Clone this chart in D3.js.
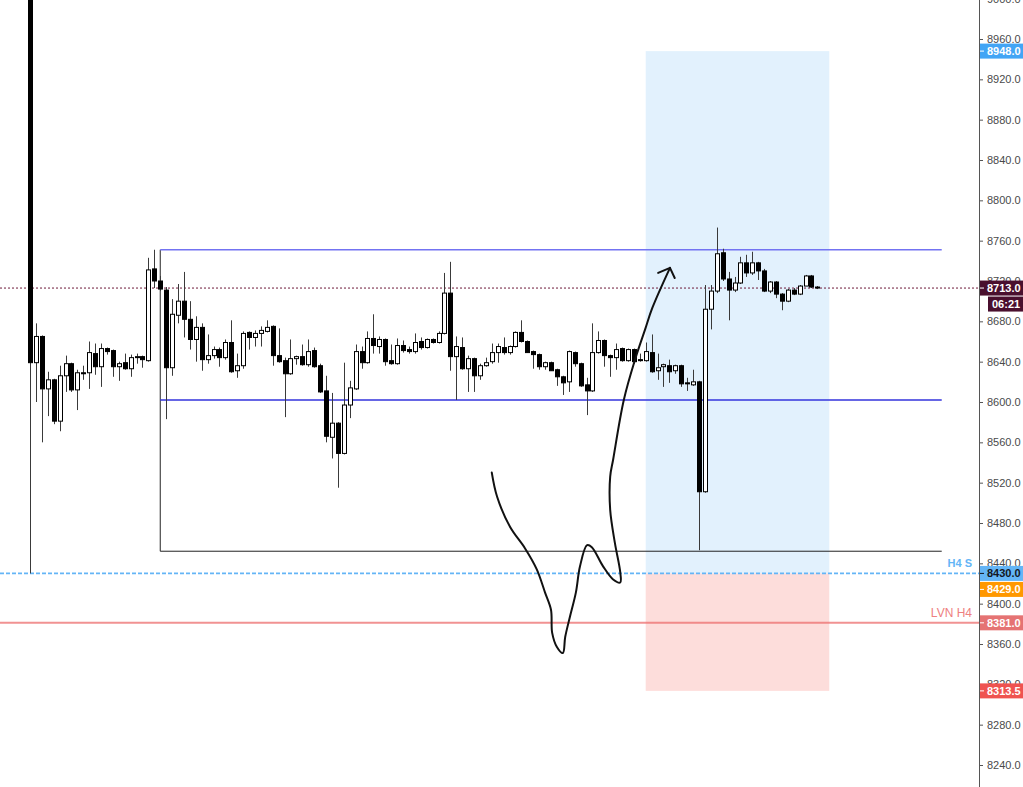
<!DOCTYPE html>
<html>
<head>
<meta charset="utf-8">
<script src="https://cdn.jsdelivr.net/npm/d3@7"></script>
<style>
  html, body { margin: 0; padding: 0; background: #fff; overflow: hidden; }
  svg { display: block; font-family: "Liberation Sans", Arial, sans-serif; }
</style>
</head>
<body>
<svg id="chart"></svg>
<script>
// OHLC, one entry per bar (oldest first)
const opens = [9060, 8639, 8665, 8613, 8622, 8581, 8626, 8638, 8612, 8629,
  8629, 8648, 8635, 8653, 8651, 8635, 8639, 8633, 8644, 8645,
  8641, 8732, 8720, 8711, 8634, 8686, 8700, 8682, 8662, 8674,
  8642, 8646, 8652, 8644, 8659, 8631, 8636, 8669, 8664, 8668,
  8670, 8675, 8646, 8641, 8628, 8643, 8645, 8637, 8651, 8636,
  8611, 8565, 8579, 8549, 8597, 8613, 8650, 8639, 8663, 8655,
  8662, 8641, 8638, 8656, 8652, 8650, 8660, 8654, 8662, 8659,
  8668, 8708, 8645, 8654, 8633, 8643, 8626, 8636, 8640, 8649,
  8654, 8649, 8655, 8669, 8660, 8650, 8647, 8635, 8639, 8632,
  8625, 8620, 8649, 8638, 8617, 8611, 8649, 8661, 8646, 8644,
  8653, 8641, 8652, 8642, 8641, 8649, 8631, 8635, 8636, 8631,
  8636, 8619, 8617, 8620, 8511, 8692, 8710, 8748, 8722, 8711,
  8718, 8738, 8728, 8738, 8730, 8710, 8719, 8707, 8700, 8711,
  8707, 8715, 8725, 8714];
const highs = [9080, 8678, 8666, 8630, 8623, 8636, 8646, 8639, 8632, 8636,
  8660, 8658, 8658, 8654, 8652, 8640, 8648, 8647, 8648, 8646,
  8743, 8751, 8725, 8714, 8702, 8717, 8729, 8700, 8685, 8678,
  8667, 8655, 8654, 8662, 8681, 8648, 8670, 8670, 8671, 8675,
  8681, 8676, 8673, 8644, 8662, 8646, 8657, 8662, 8654, 8638,
  8626, 8609, 8580, 8639, 8621, 8657, 8655, 8670, 8687, 8665,
  8663, 8657, 8663, 8661, 8655, 8668, 8664, 8663, 8663, 8670,
  8728, 8739, 8665, 8664, 8646, 8644, 8638, 8644, 8658, 8658,
  8664, 8656, 8670, 8681, 8661, 8651, 8648, 8640, 8640, 8633,
  8626, 8651, 8650, 8639, 8624, 8678, 8670, 8662, 8647, 8658,
  8654, 8653, 8653, 8648, 8659, 8667, 8648, 8638, 8642, 8637,
  8637, 8624, 8632, 8621, 8716, 8716, 8773, 8752, 8729, 8724,
  8744, 8746, 8749, 8739, 8732, 8720, 8720, 8708, 8712, 8713,
  8716, 8726, 8726, 8715];
const lows = [8430, 8600, 8560, 8586, 8578, 8571, 8610, 8610, 8592, 8622,
  8613, 8627, 8615, 8647, 8625, 8621, 8632, 8625, 8638, 8634,
  8640, 8713, 8710, 8583, 8626, 8678, 8664, 8652, 8640, 8631,
  8638, 8643, 8635, 8642, 8629, 8624, 8633, 8652, 8655, 8655,
  8669, 8636, 8639, 8585, 8627, 8637, 8636, 8635, 8634, 8609,
  8560, 8544, 8515, 8548, 8584, 8612, 8633, 8638, 8648, 8648,
  8636, 8637, 8637, 8649, 8648, 8648, 8652, 8653, 8658, 8658,
  8667, 8631, 8602, 8632, 8610, 8610, 8622, 8635, 8638, 8639,
  8647, 8647, 8654, 8659, 8649, 8633, 8632, 8632, 8631, 8616,
  8607, 8610, 8635, 8615, 8587, 8610, 8648, 8635, 8625, 8632,
  8640, 8640, 8638, 8640, 8640, 8629, 8622, 8615, 8619, 8628,
  8615, 8611, 8616, 8453, 8510, 8672, 8708, 8720, 8681, 8709,
  8717, 8724, 8726, 8721, 8709, 8708, 8703, 8691, 8699, 8706,
  8706, 8715, 8713, 8712];
const closes = [8639, 8665, 8613, 8622, 8581, 8626, 8638, 8612, 8629, 8628,
  8649, 8635, 8653, 8650, 8635, 8638, 8633, 8644, 8645, 8642,
  8731, 8720, 8712, 8634, 8687, 8700, 8682, 8662, 8674, 8642,
  8646, 8652, 8644, 8659, 8630, 8636, 8668, 8664, 8668, 8671,
  8674, 8646, 8640, 8628, 8643, 8645, 8637, 8650, 8635, 8610,
  8566, 8579, 8549, 8597, 8614, 8650, 8639, 8663, 8656, 8662,
  8640, 8638, 8656, 8651, 8650, 8659, 8654, 8662, 8659, 8668,
  8708, 8645, 8655, 8633, 8643, 8626, 8636, 8639, 8649, 8655,
  8649, 8655, 8669, 8660, 8649, 8647, 8635, 8639, 8631, 8625,
  8619, 8650, 8638, 8616, 8611, 8649, 8661, 8646, 8644, 8652,
  8641, 8652, 8640, 8641, 8650, 8630, 8634, 8637, 8630, 8636,
  8618, 8618, 8620, 8511, 8692, 8710, 8747, 8722, 8711, 8718,
  8738, 8728, 8738, 8730, 8710, 8719, 8707, 8700, 8711, 8707,
  8715, 8725, 8714, 8713];

// price axis ticks
const tickPrices = d3.range(8240, 9001, 40);

// drawn levels
const rangeTop = 8751, rangeMid = 8602, rangeBottom = 8452;
const rangeStartBar = 22, rangeEndBar = 154;
const levelH4S = 8430, levelLVN = 8381;
const lastPrice = 8713, countdown = "06:21";

// long position tool
const posStartBar = 104, posEndBar = 135;
const posEntry = 8430, posTarget = 8948, posStop = 8313.5;
const alertPrice = 8429;

// freehand arrow, in (bar index, price)
const scribbleBars = [78.0, 78.9, 81.1, 83.6, 85.6, 87.0, 88.0, 88.2, 89.0, 90.0,
  90.4, 91.2, 92.2, 92.9, 94.1, 94.9, 96.8, 98.5, 99.7, 99.7,
  98.8, 98.0, 98.0, 98.5, 100.3, 102.2, 103.9, 105.1, 108.1];
const scribblePrices = [8530, 8506, 8476, 8455, 8434, 8411, 8394, 8371, 8357, 8351,
  8367, 8387, 8411, 8437, 8458, 8456, 8437, 8424, 8421, 8431,
  8460, 8493, 8526, 8543, 8602, 8642, 8672, 8693, 8733];
const arrowHeadBars = [106.1, 108.1, 108.9];
const arrowHeadPrices = [8728, 8733, 8723];

const W = 1023, H = 787;
const axisX = 979;
const svg = d3.select('#chart').attr('width', W).attr('height', H);

const x = d3.scaleLinear().domain([0, 133]).range([30, 817.4]);
const y = d3.scaleLinear().domain([8960, 8240]).range([39, 765]);

const candles = opens.map((o, i) => ({ i, o, h: highs[i], l: lows[i], c: closes[i] }));

// position boxes
const pos = svg.append('g');
pos.append('rect')
  .attr('x', x(posStartBar)).attr('width', x(posEndBar) - x(posStartBar))
  .attr('y', y(posTarget)).attr('height', y(posEntry) - y(posTarget))
  .attr('fill', 'rgba(33,150,243,0.13)');
pos.append('rect')
  .attr('x', x(posStartBar)).attr('width', x(posEndBar) - x(posStartBar))
  .attr('y', y(posEntry)).attr('height', y(posStop) - y(posEntry))
  .attr('fill', 'rgba(244,67,54,0.18)');

// horizontal levels
const lines = svg.append('g');
lines.append('line')
  .attr('x1', 0).attr('x2', axisX).attr('y1', y(levelLVN)).attr('y2', y(levelLVN))
  .attr('stroke', 'rgba(236,110,110,0.75)').attr('stroke-width', 2);
lines.append('line')
  .attr('x1', 0).attr('x2', axisX).attr('y1', y(levelH4S)).attr('y2', y(levelH4S))
  .attr('stroke', '#64b5f6').attr('stroke-width', 1.6).attr('stroke-dasharray', '4,2');
lines.append('line')
  .attr('x1', 0).attr('x2', axisX).attr('y1', y(lastPrice)).attr('y2', y(lastPrice))
  .attr('stroke', '#6d1a3a').attr('stroke-width', 1).attr('stroke-dasharray', '2,2');

// range box: left + bottom edge in black, top and middle in blue
lines.append('line')
  .attr('x1', x(rangeStartBar)).attr('x2', x(rangeStartBar))
  .attr('y1', y(rangeTop)).attr('y2', y(rangeBottom))
  .attr('stroke', '#222').attr('stroke-width', 1);
lines.append('line')
  .attr('x1', x(rangeStartBar)).attr('x2', x(rangeEndBar))
  .attr('y1', y(rangeBottom)).attr('y2', y(rangeBottom))
  .attr('stroke', '#222').attr('stroke-width', 1);
lines.append('line')
  .attr('x1', x(rangeStartBar)).attr('x2', x(rangeEndBar))
  .attr('y1', y(rangeTop)).attr('y2', y(rangeTop))
  .attr('stroke', '#7373f2').attr('stroke-width', 1.6);
lines.append('line')
  .attr('x1', x(rangeStartBar)).attr('x2', x(rangeEndBar))
  .attr('y1', y(rangeMid)).attr('y2', y(rangeMid))
  .attr('stroke', '#3333dd').attr('stroke-width', 1.3);

// level captions
svg.append('text').attr('x', 972).attr('y', y(levelH4S) - 6)
  .attr('text-anchor', 'end').attr('font-size', 11).attr('font-weight', 'bold')
  .attr('fill', '#64b5f6').text('H4 S');
svg.append('text').attr('x', 972).attr('y', y(levelLVN) - 6)
  .attr('text-anchor', 'end').attr('font-size', 12)
  .attr('fill', '#ee8080').text('LVN H4');

// candles
const cg = svg.append('g');
const bw = 4;
const bars = cg.selectAll('g.candle').data(candles).join('g').attr('class', 'candle');
bars.append('line')
  .attr('x1', d => Math.round(x(d.i)) + 0.5).attr('x2', d => Math.round(x(d.i)) + 0.5)
  .attr('y1', d => y(d.h)).attr('y2', d => y(d.l))
  .attr('stroke', '#3a3a3a').attr('stroke-width', 1);
bars.append('rect')
  .attr('x', d => Math.round(x(d.i)) + 0.5 - bw / 2)
  .attr('width', bw)
  .attr('y', d => y(Math.max(d.o, d.c)))
  .attr('height', d => Math.max(1, Math.abs(y(d.o) - y(d.c))))
  .attr('fill', d => d.c >= d.o ? '#fff' : '#000')
  .attr('stroke', '#000').attr('stroke-width', 1);

// freehand arrow
const scribble = scribbleBars.map((b, i) => [x(b), y(scribblePrices[i])]);
svg.append('path')
  .attr('d', d3.line().curve(d3.curveCatmullRom.alpha(0.5))(scribble))
  .attr('fill', 'none').attr('stroke', '#111').attr('stroke-width', 2)
  .attr('stroke-linecap', 'round').attr('stroke-linejoin', 'round');
svg.append('path')
  .attr('d', d3.line()(arrowHeadBars.map((b, i) => [x(b), y(arrowHeadPrices[i])])))
  .attr('fill', 'none').attr('stroke', '#111').attr('stroke-width', 2)
  .attr('stroke-linecap', 'round').attr('stroke-linejoin', 'round');

// price axis
const axisG = svg.append('g').attr('transform', `translate(${axisX},0)`);
axisG.call(d3.axisRight(y).tickValues(tickPrices).tickFormat(d3.format('.1f'))
  .tickSize(4).tickPadding(4));
axisG.select('.domain').remove();
axisG.selectAll('.tick line').attr('stroke', '#555');
axisG.selectAll('.tick text').attr('fill', '#4a4a4a').attr('font-size', 11)
  .attr('font-family', '"Liberation Sans", Arial, sans-serif');
svg.append('line').attr('x1', axisX + 0.5).attr('x2', axisX + 0.5)
  .attr('y1', 0).attr('y2', H).attr('stroke', '#555').attr('stroke-width', 1);

// price tags, stacked so they do not overlap
const tags = [
  { p: posTarget, bg: '#42a5f5', fg: '#fff' },
  { p: lastPrice, bg: '#4a0f2e', fg: '#fff' },
  { p: posEntry, bg: '#64b5f6', fg: '#131722' },
  { p: alertPrice, bg: '#ff9800', fg: '#fff' },
  { p: levelLVN, bg: '#e57373', fg: '#fff' },
  { p: posStop, bg: '#ef5350', fg: '#fff' }
];
const th = 15;
tags.forEach(t => { t.cy = y(t.p); });
tags.sort((a, b) => a.cy - b.cy);
for (let k = 1; k < tags.length; k++) {
  if (tags[k].cy - tags[k - 1].cy < th + 1) tags[k].cy = tags[k - 1].cy + th + 1;
}
const tg = svg.append('g');
const tagG = tg.selectAll('g').data(tags).join('g');
tagG.append('rect').attr('x', axisX + 1).attr('width', W - axisX - 1)
  .attr('y', d => d.cy - th / 2).attr('height', th).attr('fill', d => d.bg);
tagG.append('line').attr('x1', axisX + 1).attr('x2', axisX + 5)
  .attr('y1', d => d.cy).attr('y2', d => d.cy).attr('stroke', d => d.fg).attr('stroke-width', 1);
tagG.append('text').attr('x', 987).attr('y', d => d.cy).attr('dy', '0.36em')
  .attr('font-size', 11).attr('font-weight', 'bold').attr('fill', d => d.fg)
  .text(d => d3.format('.1f')(d.p));

// countdown under the last price tag
const last = tags.find(t => t.p === lastPrice);
tg.append('rect').attr('x', 988).attr('width', W - 988)
  .attr('y', last.cy + th / 2 + 1).attr('height', th).attr('fill', '#4a0f2e');
tg.append('text').attr('x', 992).attr('y', last.cy + th + 1).attr('dy', '0.36em')
  .attr('font-size', 11).attr('font-weight', 'bold').attr('fill', '#fff').text(countdown);
</script>
</body>
</html>
